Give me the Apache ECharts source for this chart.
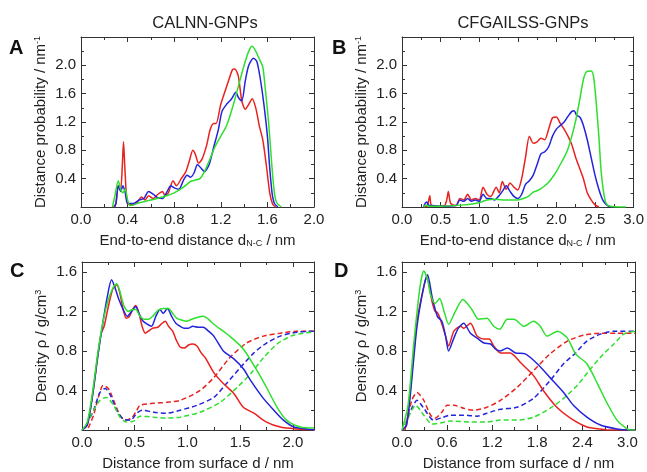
<!DOCTYPE html>
<html>
<head>
<meta charset="utf-8">
<script src="https://cdn.jsdelivr.net/npm/echarts@6/dist/echarts.min.js"></script>
<style>
  html, body { margin: 0; padding: 0; background: #fff; }
  #main { width: 647px; height: 472px; }
</style>
</head>
<body>
<div id="main"></div>
<script>
// panel A: CALNN end-to-end distance distribution
var aRed = [[0.28,0],[0.30,0.05],[0.32,0.30],[0.34,0.25],[0.355,0.6],[0.365,0.92],[0.375,0.6],[0.39,0.15],[0.40,0.05],[0.44,0.03],[0.48,0.06],[0.52,0.14],[0.55,0.10],[0.58,0.16],[0.62,0.12],[0.66,0.18],[0.70,0.22],[0.72,0.16],[0.75,0.20],[0.79,0.37],[0.82,0.30],[0.86,0.40],[0.90,0.50],[0.93,0.65],[0.96,0.80],[0.98,0.75],[1.01,0.62],[1.04,0.68],[1.08,0.88],[1.11,1.10],[1.14,1.18],[1.16,1.18],[1.20,1.45],[1.26,1.75],[1.30,1.94],[1.32,1.95],[1.35,1.85],[1.38,1.50],[1.41,1.38],[1.44,1.45],[1.47,1.53],[1.50,1.40],[1.53,1.15],[1.56,0.95],[1.59,0.60],[1.62,0.20],[1.645,0.04],[1.67,0]];
var aBlue = [[0.29,0],[0.30,0.05],[0.32,0.30],[0.34,0.22],[0.36,0.30],[0.38,0.20],[0.40,0.05],[0.45,0.05],[0.50,0.10],[0.54,0.12],[0.58,0.22],[0.62,0.18],[0.66,0.13],[0.70,0.12],[0.74,0.22],[0.77,0.30],[0.80,0.27],[0.84,0.25],[0.88,0.38],[0.91,0.45],[0.94,0.42],[0.97,0.48],[1.00,0.60],[1.03,0.55],[1.06,0.50],[1.10,0.60],[1.14,0.85],[1.18,1.10],[1.21,1.35],[1.25,1.45],[1.29,1.52],[1.33,1.62],[1.35,1.55],[1.38,1.50],[1.41,1.78],[1.44,2.00],[1.48,2.10],[1.51,2.05],[1.54,1.80],[1.57,1.45],[1.60,1.00],[1.62,0.55],[1.64,0.20],[1.66,0.05],[1.69,0]];
var aGreen = [[0.27,0],[0.29,0.15],[0.32,0.37],[0.34,0.25],[0.36,0.20],[0.38,0.25],[0.40,0.10],[0.42,0.02],[0.45,0.03],[0.50,0.06],[0.60,0.10],[0.70,0.14],[0.80,0.20],[0.88,0.28],[0.94,0.36],[0.98,0.38],[1.02,0.40],[1.06,0.50],[1.10,0.65],[1.15,0.85],[1.20,1.00],[1.25,1.15],[1.30,1.40],[1.35,1.70],[1.40,2.00],[1.44,2.20],[1.47,2.27],[1.50,2.20],[1.53,2.09],[1.56,1.98],[1.58,1.70],[1.61,1.20],[1.64,0.55],[1.66,0.20],[1.68,0.06],[1.72,0]];

// panel B: CFGAILSS end-to-end distance distribution
var bRed = [[0.30,0],[0.33,0.02],[0.36,0.16],[0.38,0.02],[0.45,0.01],[0.55,0.02],[0.58,0.10],[0.60,0.22],[0.63,0.05],[0.70,0.02],[0.75,0.12],[0.80,0.10],[0.85,0.18],[0.90,0.10],[0.95,0.12],[1.00,0.10],[1.05,0.28],[1.10,0.18],[1.15,0.15],[1.22,0.28],[1.26,0.20],[1.30,0.36],[1.35,0.25],[1.40,0.34],[1.45,0.28],[1.50,0.24],[1.55,0.40],[1.60,0.70],[1.65,1.00],[1.70,0.90],[1.75,0.92],[1.80,0.97],[1.85,0.95],[1.90,1.10],[1.95,1.26],[2.00,1.27],[2.05,1.18],[2.10,1.10],[2.15,1.00],[2.20,0.88],[2.25,0.70],[2.30,0.55],[2.35,0.40],[2.40,0.20],[2.45,0.10],[2.50,0.03],[2.55,0]];
var bBlue = [[0.28,0],[0.30,0.05],[0.32,0.07],[0.35,0.02],[0.40,0.02],[0.50,0.01],[0.70,0.02],[0.75,0.10],[0.80,0.08],[0.85,0.12],[0.90,0.08],[0.95,0.10],[1.00,0.08],[1.05,0.18],[1.10,0.12],[1.15,0.12],[1.20,0.10],[1.25,0.15],[1.30,0.22],[1.35,0.30],[1.40,0.22],[1.45,0.15],[1.50,0.12],[1.55,0.18],[1.60,0.32],[1.65,0.37],[1.70,0.45],[1.75,0.60],[1.80,0.75],[1.85,0.78],[1.90,0.85],[1.95,1.00],[2.00,1.10],[2.05,1.15],[2.10,1.20],[2.15,1.28],[2.20,1.35],[2.23,1.36],[2.26,1.30],[2.31,1.26],[2.35,1.15],[2.40,0.95],[2.45,0.70],[2.50,0.45],[2.55,0.25],[2.60,0.10],[2.65,0.03],[2.70,0]];
var bGreen = [[0.28,0],[0.31,0.03],[0.35,0.01],[0.50,0.01],[0.80,0.03],[1.00,0.06],[1.10,0.10],[1.20,0.11],[1.30,0.10],[1.40,0.10],[1.50,0.10],[1.60,0.13],[1.65,0.16],[1.70,0.21],[1.75,0.23],[1.80,0.26],[1.85,0.30],[1.90,0.35],[1.95,0.42],[2.00,0.50],[2.05,0.60],[2.10,0.70],[2.15,0.82],[2.20,1.00],[2.25,1.22],[2.30,1.50],[2.35,1.80],[2.39,1.91],[2.45,1.92],[2.48,1.85],[2.51,1.55],[2.55,1.00],[2.58,0.50],[2.62,0.15],[2.65,0.04],[2.70,0.01],[2.80,0],[2.90,0]];

// panel C: CALNN density profiles (solid = peptide, dashed = water)
var cRed = [[0,0],[0.05,0.05],[0.10,0.35],[0.15,0.75],[0.18,0.97],[0.21,1.05],[0.25,1.25],[0.29,1.42],[0.33,1.47],[0.36,1.38],[0.39,1.22],[0.42,1.13],[0.45,1.15],[0.48,1.22],[0.51,1.26],[0.54,1.18],[0.57,1.05],[0.60,0.98],[0.63,1.00],[0.67,1.03],[0.72,1.04],[0.76,1.08],[0.79,1.10],[0.82,1.05],[0.86,1.00],[0.89,0.92],[0.93,0.84],[0.97,0.83],[1.01,0.86],[1.05,0.87],[1.09,0.85],[1.13,0.78],[1.17,0.73],[1.25,0.58],[1.34,0.47],[1.44,0.37],[1.53,0.23],[1.63,0.17],[1.75,0.08],[1.88,0.03],[2.04,0.01],[2.2,0]];
var cBlue = [[0,0],[0.05,0.05],[0.10,0.35],[0.15,0.75],[0.20,1.10],[0.24,1.35],[0.28,1.52],[0.31,1.45],[0.35,1.32],[0.39,1.22],[0.43,1.15],[0.47,1.20],[0.51,1.25],[0.54,1.18],[0.58,1.10],[0.62,1.07],[0.66,1.05],[0.70,1.15],[0.74,1.22],[0.77,1.18],[0.81,1.23],[0.85,1.15],[0.89,1.08],[0.93,1.05],[0.97,1.03],[1.01,1.03],[1.05,1.05],[1.10,1.04],[1.15,1.04],[1.20,1.00],[1.25,0.95],[1.34,0.80],[1.44,0.72],[1.53,0.62],[1.60,0.50],[1.72,0.32],[1.82,0.20],[1.91,0.10],[2.01,0.03],[2.13,0.01],[2.2,0]];
var cGreen = [[0,0],[0.05,0.08],[0.10,0.38],[0.15,0.78],[0.20,1.10],[0.25,1.32],[0.30,1.45],[0.33,1.48],[0.36,1.40],[0.40,1.25],[0.44,1.20],[0.48,1.22],[0.51,1.22],[0.55,1.15],[0.59,1.12],[0.63,1.12],[0.67,1.15],[0.72,1.21],[0.77,1.23],[0.82,1.23],[0.86,1.18],[0.90,1.13],[0.95,1.11],[0.99,1.10],[1.04,1.12],[1.10,1.14],[1.15,1.15],[1.20,1.12],[1.25,1.07],[1.40,0.95],[1.53,0.82],[1.66,0.60],[1.75,0.43],[1.85,0.23],[1.94,0.10],[2.07,0.03],[2.2,0.02]];
var cRedDash = [[0.06,0.02],[0.11,0.15],[0.16,0.35],[0.20,0.45],[0.25,0.42],[0.30,0.30],[0.36,0.15],[0.41,0.10],[0.47,0.12],[0.52,0.20],[0.55,0.25],[0.68,0.27],[0.80,0.28],[0.93,0.30],[1.12,0.40],[1.25,0.53],[1.40,0.73],[1.56,0.88],[1.72,0.95],[1.88,0.98],[2.04,1.00],[2.2,1.00]];
var cBlueDash = [[0.04,0.05],[0.11,0.20],[0.17,0.38],[0.22,0.42],[0.27,0.35],[0.33,0.20],[0.39,0.11],[0.46,0.10],[0.52,0.17],[0.57,0.20],[0.68,0.18],[0.80,0.17],[0.93,0.20],[1.09,0.25],[1.25,0.33],[1.37,0.47],[1.50,0.63],[1.63,0.78],[1.75,0.88],[1.88,0.95],[2.04,0.99],[2.2,1.00]];
var cGreenDash = [[0.04,0.05],[0.11,0.20],[0.17,0.30],[0.23,0.33],[0.30,0.25],[0.36,0.13],[0.42,0.08],[0.49,0.09],[0.55,0.14],[0.68,0.13],[0.80,0.12],[0.93,0.13],[1.12,0.18],[1.31,0.28],[1.47,0.43],[1.60,0.57],[1.72,0.73],[1.85,0.87],[1.98,0.95],[2.10,0.98],[2.2,0.99]];

// panel D: CFGAILSS density profiles
var dRed = [[0,0],[0.06,0.05],[0.11,0.40],[0.20,1.10],[0.29,1.45],[0.33,1.55],[0.40,1.30],[0.44,1.20],[0.47,1.19],[0.51,1.12],[0.58,0.95],[0.62,0.85],[0.69,1.00],[0.78,1.05],[0.82,1.03],[0.91,1.08],[1.00,0.95],[1.09,0.92],[1.16,0.92],[1.22,0.85],[1.31,0.78],[1.44,0.78],[1.58,0.68],[1.75,0.55],[1.88,0.40],[2.06,0.23],[2.24,0.12],[2.46,0.03],[2.64,0.01],[2.77,0],[3.1,0]];
var dBlue = [[0,0],[0.06,0.05],[0.11,0.35],[0.20,1.05],[0.29,1.45],[0.34,1.57],[0.40,1.35],[0.47,1.15],[0.53,1.10],[0.58,0.95],[0.62,0.80],[0.69,0.93],[0.75,1.03],[0.82,1.08],[0.91,0.98],[1.00,0.93],[1.09,0.88],[1.18,0.87],[1.24,0.82],[1.31,0.80],[1.40,0.83],[1.51,0.78],[1.64,0.77],[1.80,0.67],[1.97,0.53],[2.15,0.38],[2.28,0.25],[2.46,0.13],[2.64,0.05],[2.86,0.01],[3.0,0],[3.1,0]];
var dGreen = [[0,0],[0.08,0.25],[0.16,0.90],[0.24,1.45],[0.29,1.61],[0.34,1.52],[0.38,1.37],[0.44,1.28],[0.50,1.33],[0.56,1.20],[0.62,1.07],[0.71,1.20],[0.81,1.32],[0.93,1.22],[1.02,1.12],[1.13,1.13],[1.22,1.05],[1.30,1.02],[1.40,1.12],[1.49,1.12],[1.62,1.05],[1.75,1.10],[1.84,1.05],[1.93,0.95],[2.07,1.00],[2.20,0.93],[2.31,0.77],[2.46,0.67],[2.60,0.47],[2.73,0.27],[2.86,0.10],[2.98,0.02],[3.04,0],[3.1,0]];
var dRedDash = [[0.04,0],[0.13,0.30],[0.20,0.38],[0.29,0.30],[0.38,0.15],[0.44,0.12],[0.53,0.18],[0.60,0.25],[0.69,0.25],[0.82,0.22],[0.95,0.20],[1.13,0.23],[1.31,0.30],[1.53,0.43],[1.75,0.60],[1.97,0.77],[2.20,0.90],[2.42,0.96],[2.64,0.98],[2.86,0.98],[3.1,0.98]];
var dBlueDash = [[0.04,0.05],[0.13,0.22],[0.20,0.30],[0.29,0.22],[0.42,0.10],[0.55,0.13],[0.64,0.15],[0.82,0.15],[1.00,0.14],[1.13,0.17],[1.31,0.21],[1.53,0.23],[1.75,0.32],[1.97,0.50],[2.15,0.67],[2.31,0.78],[2.46,0.90],[2.64,0.97],[2.82,1.00],[3.1,1.00]];
var dGreenDash = [[0.04,0.05],[0.13,0.20],[0.18,0.25],[0.29,0.15],[0.40,0.06],[0.51,0.07],[0.64,0.09],[0.91,0.08],[1.13,0.08],[1.31,0.10],[1.53,0.10],[1.75,0.13],[1.97,0.22],[2.15,0.32],[2.33,0.45],[2.51,0.62],[2.68,0.77],[2.82,0.87],[2.95,0.97],[3.1,1.00]];

var panelTitles = ['CALNN-GNPs', 'CFGAILSS-GNPs'];
var panelLetters = ['A', 'B', 'C', 'D'];

var RED = '#e8231f', BLUE = '#2424dc', GREEN = '#2ee02e';
var FONT = 'Liberation Sans, Arial, sans-serif';
var INK = '#222';

var grids = [
  { left: 81, top: 37, width: 233, height: 170 },
  { left: 402, top: 37, width: 233, height: 170 },
  { left: 82, top: 262, width: 232, height: 170 },
  { left: 402, top: 262, width: 233, height: 170 }
];

var richText = {
  sup: { fontSize: 9, verticalAlign: 'top', fontFamily: FONT, color: INK },
  sub: { fontSize: 9, verticalAlign: 'bottom', fontFamily: FONT, color: INK }
};

function tickFmt(interval, labelMax) {
  return function (v) {
    if (Math.abs(v / interval - Math.round(v / interval)) > 1e-6) return '';
    if (labelMax !== undefined && (v <= 1e-9 || v > labelMax + 1e-9)) return '';
    return v.toFixed(1);
  };
}

function baseAxis(gi, max, interval, pos, mirror) {
  return {
    type: 'value', gridIndex: gi, position: pos, min: 0, max: max, interval: interval,
    axisLine: { show: true, onZero: false, lineStyle: { color: '#333', width: 1 } },
    axisTick: { show: true, inside: true, length: 5, lineStyle: { color: '#333' } },
    minorTick: { show: true, splitNumber: 2, length: 3, lineStyle: { color: '#333' } },
    splitLine: { show: false },
    minorSplitLine: { show: false },
    axisLabel: mirror ? { show: false } : { show: true, fontSize: 15, color: INK, fontFamily: FONT, margin: 5 }
  };
}

var xAxes = [], yAxes = [];
function addX(gi, max, interval, name) {
  var b = baseAxis(gi, max, interval, 'bottom', false);
  b.axisLabel.formatter = tickFmt(interval);
  b.axisLabel.showMaxLabel = true;
  b.name = name;
  b.nameLocation = 'middle';
  b.nameGap = 26;
  b.nameTextStyle = { fontSize: 15, color: INK, fontFamily: FONT, rich: richText };
  xAxes.push(b);
  xAxes.push(baseAxis(gi, max, interval, 'top', true));
}
function addY(gi, max, interval, labelMax, name) {
  var b = baseAxis(gi, max, interval, 'left', false);
  b.axisLabel.formatter = tickFmt(interval, labelMax);
  b.name = name;
  b.nameLocation = 'middle';
  b.nameGap = 33;
  b.nameTextStyle = { fontSize: 15, color: INK, fontFamily: FONT, rich: richText };
  yAxes.push(b);
  yAxes.push(baseAxis(gi, max, interval, 'right', true));
}

var xNameTop = 'End-to-end distance d{sub|N-C} / nm';
var xNameBottom = 'Distance from surface d / nm';
var yNameTop = 'Distance probability / nm{sup|-1}';
var yNameBottom = 'Density \u03c1 / g/cm{sup|3}';

addX(0, 2.0, 0.4, xNameTop);    addY(0, 2.4, 0.4, 2.0, yNameTop);
addX(1, 3.0, 0.5, xNameTop);    addY(1, 2.4, 0.4, 2.0, yNameTop);
addX(2, 2.2, 0.5, xNameBottom); addY(2, 1.7, 0.4, 1.6, yNameBottom);
addX(3, 3.1, 0.6, xNameBottom); addY(3, 1.7, 0.4, 1.6, yNameBottom);

function line(gi, data, color, dashed) {
  return {
    type: 'line', xAxisIndex: gi * 2, yAxisIndex: gi * 2, data: data,
    showSymbol: false, smooth: 0.25, silent: true,
    lineStyle: { color: color, width: 1.5, type: dashed ? [5, 3] : 'solid' }
  };
}

var series = [
  line(0, aRed, RED), line(0, aBlue, BLUE), line(0, aGreen, GREEN),
  line(1, bRed, RED), line(1, bBlue, BLUE), line(1, bGreen, GREEN),
  line(2, cRedDash, RED, true), line(2, cBlueDash, BLUE, true), line(2, cGreenDash, GREEN, true),
  line(2, cRed, RED), line(2, cBlue, BLUE), line(2, cGreen, GREEN),
  line(3, dRedDash, RED, true), line(3, dBlueDash, BLUE, true), line(3, dGreenDash, GREEN, true),
  line(3, dRed, RED), line(3, dBlue, BLUE), line(3, dGreen, GREEN)
];

var letterPos = [[9, 38], [332, 38], [10, 261], [334, 261]];
var graphics = panelLetters.map(function (t, i) {
  return { type: 'text', left: letterPos[i][0], top: letterPos[i][1],
    style: { text: t, fontSize: 20, fontWeight: 'bold', fontFamily: FONT, fill: '#111' } };
});

var chart = echarts.init(document.getElementById('main'), null, { renderer: 'canvas' });
chart.setOption({
  animation: false,
  backgroundColor: '#fff',
  textStyle: { fontFamily: FONT },
  title: [
    { text: panelTitles[0], left: 200, top: 10, textAlign: 'center',
      textStyle: { fontSize: 16.5, fontWeight: 'normal', color: INK, fontFamily: FONT } },
    { text: panelTitles[1], left: 518, top: 10, textAlign: 'center',
      textStyle: { fontSize: 16.5, fontWeight: 'normal', color: INK, fontFamily: FONT } }
  ],
  grid: grids,
  xAxis: xAxes,
  yAxis: yAxes,
  graphic: graphics,
  series: series
});
</script>
</body>
</html>
